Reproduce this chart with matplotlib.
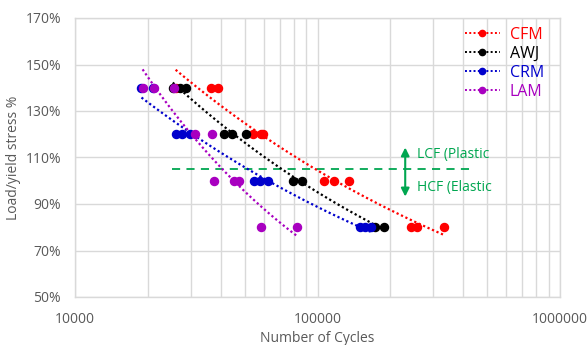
import numpy as np
import matplotlib
matplotlib.use("Agg")
import matplotlib.pyplot as plt
from matplotlib.ticker import FixedLocator, FuncFormatter, NullFormatter

plt.rcParams['font.family'] = ['Open Sans', 'DejaVu Sans']

series_names = ["CFM", "AWJ", "CRM", "LAM"]
series_colors = ["#FF0000", "#000000", "#0000CC", "#A800C0"]

cfm_cycles = [26000, 36400, 39000, 54400, 58500, 59800, 106300, 116900, 134500, 243000, 258000, 331000]
cfm_load = [140, 140, 140, 120, 120, 120, 100, 100, 100, 80, 80, 80]
awj_cycles = [25300, 27100, 28700, 41000, 44500, 50600, 79500, 86000, 172600, 188700]
awj_load = [140, 140, 140, 120, 120, 120, 100, 100, 80, 80]
crm_cycles = [18800, 20900, 26200, 27700, 29800, 54700, 57800, 62700, 149700, 157000, 166200]
crm_load = [140, 140, 120, 120, 120, 100, 100, 100, 80, 80, 80]
lam_cycles = [19000, 21200, 25500, 31300, 36600, 37400, 45400, 47300, 58500, 82000]
lam_load = [140, 140, 140, 120, 120, 100, 100, 100, 80, 80]

boundary_level = 105
boundary_range = [25000, 425000]
arrow_x = 230000
arrow_range = [115.5, 92]
label_upper = "LCF (Plastic"
label_lower = "HCF (Elastic"

y_ticks = [50, 70, 90, 110, 130, 150, 170]
x_major = [10000, 100000, 1000000]

fig = plt.figure(figsize=(5.87, 3.45), dpi=100)
ax = fig.add_axes([75/587, 1-297/345, (560-75)/587, (297-18)/345])

ax.set_xscale('log')
ax.set_xlim(10000, 1000000)
ax.set_ylim(50, 170)

grid_c = "#D9D9D9"
minor = [m * 10**k for k in (4, 5) for m in range(2, 10)]
ax.xaxis.set_major_locator(FixedLocator(x_major))
ax.xaxis.set_minor_locator(FixedLocator(minor))
ax.xaxis.set_minor_formatter(NullFormatter())
ax.xaxis.set_major_formatter(FuncFormatter(lambda v, p: f"{int(round(v))}"))
ax.yaxis.set_major_locator(FixedLocator(y_ticks))
ax.yaxis.set_major_formatter(FuncFormatter(lambda v, p: f"{int(round(v))}%"))
ax.grid(True, which='both', axis='x', color=grid_c, lw=1.0)
ax.grid(True, which='major', axis='y', color=grid_c, lw=1.0)
ax.set_axisbelow(True)
for s in ax.spines.values():
    s.set_color(grid_c)
    s.set_linewidth(1.0)
ax.tick_params(which='both', length=0, colors="#595959", labelsize=10)
ax.tick_params(axis='x', pad=11)
ax.tick_params(axis='y', pad=10)

all_data = [(cfm_cycles, cfm_load), (awj_cycles, awj_load), (crm_cycles, crm_load), (lam_cycles, lam_load)]
handles = []
for (xs, ys), name, col in zip(all_data, series_names, series_colors):
    xs = np.array(xs, float); ys = np.array(ys, float)
    b, loga = np.polyfit(np.log(xs), np.log(ys), 1)
    xt = np.geomspace(xs.min(), xs.max(), 100)
    yt = np.exp(loga) * xt**b
    ax.plot(xt, yt, ls=(0, (1, 1.2)), color=col, lw=1.6, zorder=3)
    ax.plot(xs, ys, 'o', color=col, ms=5.8, zorder=4)
    h, = ax.plot([], [], ls=(0, (1, 1.2)), color=col, lw=1.4, marker='o', ms=4.5)
    handles.append(h)

leg = ax.legend(handles, series_names, loc='upper left', bbox_to_anchor=(385/485, 0.985),
                frameon=False, fontsize=11.5, handlelength=2.2, handletextpad=0.6,
                labelspacing=0.18, borderaxespad=0.0, borderpad=0.3)
for t, col in zip(leg.get_texts(), series_colors):
    t.set_color(col)

green = "#00A650"
ax.plot(boundary_range, [boundary_level, boundary_level], color=green, lw=1.3, ls=(0, (4.5, 3.5)), zorder=2)
ax.annotate("", xy=(arrow_x, arrow_range[0]), xytext=(arrow_x, arrow_range[1]),
            arrowprops=dict(arrowstyle='<|-|>', color=green, lw=1.5, mutation_scale=12))
ax.text(arrow_x * 1.12, 111.2, label_upper, color=green, fontsize=10, va='center', ha='left')
ax.text(arrow_x * 1.12, 97, label_lower, color=green, fontsize=10, va='center', ha='left')

ax.set_xlabel("Number of Cycles", color="#595959", fontsize=10, labelpad=3)
ax.set_ylabel("Load/yield stress %", color="#595959", fontsize=10, labelpad=3)

fig.savefig("out.png", dpi=100)
